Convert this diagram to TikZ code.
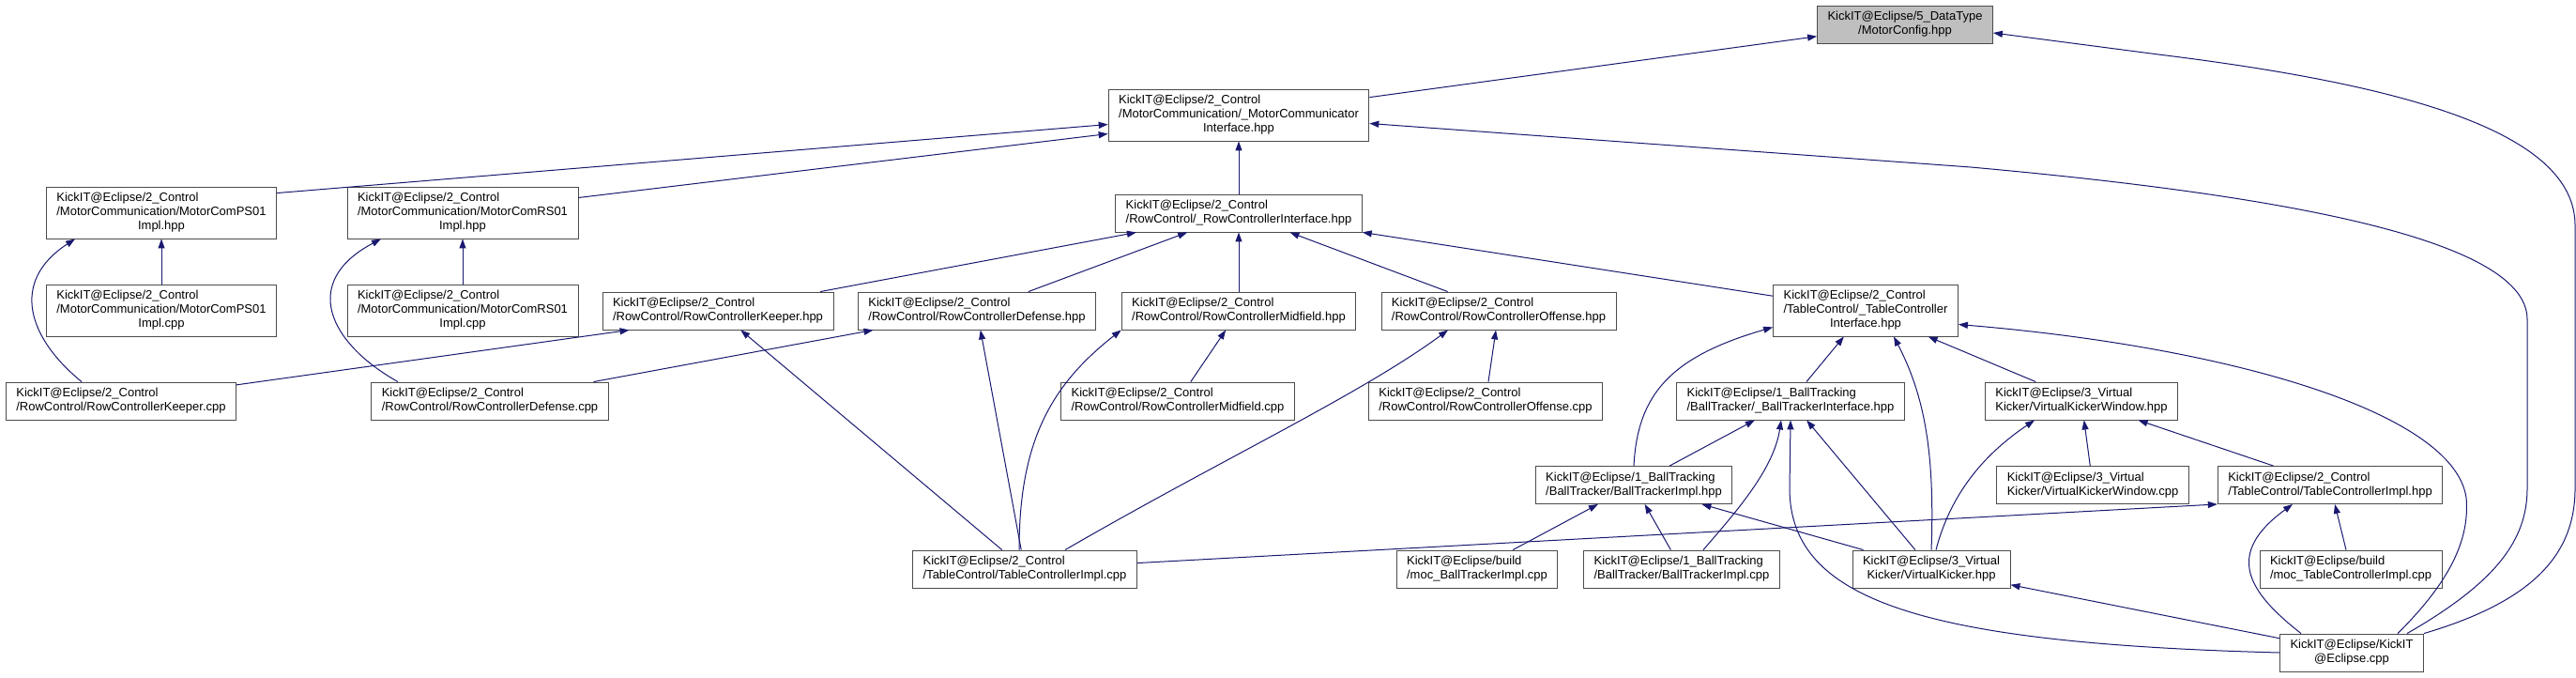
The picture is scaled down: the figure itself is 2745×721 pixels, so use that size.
\documentclass[tikz,border=0pt]{standalone}
\usepackage{fontspec}
\setmainfont{Liberation Sans}
\usepackage{xcolor}
\usetikzlibrary{arrows.meta,calc}
\definecolor{navyline}{HTML}{191970}
\definecolor{rootfill}{HTML}{BFBFBF}
\newcommand{\flabel}[2]{\begin{tabular}{@{}l@{}}#1\\\multicolumn{1}{@{}c@{}}{#2}\end{tabular}}
\tikzset{
  file/.style={draw=black!70,line width=0.9pt,fill=white,inner xsep=11pt,inner ysep=0pt,font=\fontsize{13}{15}\selectfont},
  two/.style={file,minimum height=40pt},
  three/.style={file,minimum height=55pt},
  root/.style={two,fill=rootfill},
  incl/.style={draw=navyline,line width=1pt,-{Triangle[length=10pt,width=7pt]}},
}
\begin{document}
\begin{tikzpicture}[x=1pt,y=-1pt]
  \fill[white] (0,0) rectangle (2745,721);
  \useasboundingbox (0,0) rectangle (2745,721);
  % header and motor communication
  \node[root] (cfg) at (2030,26) {\flabel{KickIT@Eclipse/5\_DataType}{/MotorConfig.hpp}};
  \node[three] (mci) at (1320,122.5) {\flabel{KickIT@Eclipse/2\_Control\\/MotorCommunication/\_MotorCommunicator}{Interface.hpp}};
  \node[three] (ps1h) at (172,226.5) {\flabel{KickIT@Eclipse/2\_Control\\/MotorCommunication/MotorComPS01}{Impl.hpp}};
  \node[three] (ps1c) at (172,330.5) {\flabel{KickIT@Eclipse/2\_Control\\/MotorCommunication/MotorComPS01}{Impl.cpp}};
  \node[three] (rs1h) at (493,226.5) {\flabel{KickIT@Eclipse/2\_Control\\/MotorCommunication/MotorComRS01}{Impl.hpp}};
  \node[three] (rs1c) at (493,330.5) {\flabel{KickIT@Eclipse/2\_Control\\/MotorCommunication/MotorComRS01}{Impl.cpp}};
  % row control
  \node[two] (rci) at (1320,227) {\flabel{KickIT@Eclipse/2\_Control}{/RowControl/\_RowControllerInterface.hpp}};
  \node[two] (kph) at (765,331) {\flabel{KickIT@Eclipse/2\_Control}{/RowControl/RowControllerKeeper.hpp}};
  \node[two] (dfh) at (1041,331) {\flabel{KickIT@Eclipse/2\_Control}{/RowControl/RowControllerDefense.hpp}};
  \node[two] (mfh) at (1320,331) {\flabel{KickIT@Eclipse/2\_Control}{/RowControl/RowControllerMidfield.hpp}};
  \node[two] (ofh) at (1597,331) {\flabel{KickIT@Eclipse/2\_Control}{/RowControl/RowControllerOffense.hpp}};
  \node[two] (kpc) at (129,427) {\flabel{KickIT@Eclipse/2\_Control}{/RowControl/RowControllerKeeper.cpp}};
  \node[two] (dfc) at (522,427) {\flabel{KickIT@Eclipse/2\_Control}{/RowControl/RowControllerDefense.cpp}};
  \node[two] (mfc) at (1255,427) {\flabel{KickIT@Eclipse/2\_Control}{/RowControl/RowControllerMidfield.cpp}};
  \node[two] (ofc) at (1583,427) {\flabel{KickIT@Eclipse/2\_Control}{/RowControl/RowControllerOffense.cpp}};
  % table control, ball tracking, virtual kicker
  \node[three] (tci) at (1988,330.5) {\flabel{KickIT@Eclipse/2\_Control\\/TableControl/\_TableController}{Interface.hpp}};
  \node[two] (bti) at (1908,427) {\flabel{KickIT@Eclipse/1\_BallTracking}{/BallTracker/\_BallTrackerInterface.hpp}};
  \node[two] (vkwh) at (2218,427) {\flabel{KickIT@Eclipse/3\_Virtual}{Kicker/VirtualKickerWindow.hpp}};
  \node[two] (bth) at (1741,516.5) {\flabel{KickIT@Eclipse/1\_BallTracking}{/BallTracker/BallTrackerImpl.hpp}};
  \node[two] (vkwc) at (2230,516.5) {\flabel{KickIT@Eclipse/3\_Virtual}{Kicker/VirtualKickerWindow.cpp}};
  \node[two] (tch) at (2483,516.5) {\flabel{KickIT@Eclipse/2\_Control}{/TableControl/TableControllerImpl.hpp}};
  \node[two] (tcc) at (1092,606) {\flabel{KickIT@Eclipse/2\_Control}{/TableControl/TableControllerImpl.cpp}};
  \node[two] (mbt) at (1574,606) {\flabel{KickIT@Eclipse/build}{/moc\_BallTrackerImpl.cpp}};
  \node[two] (btc) at (1792,606) {\flabel{KickIT@Eclipse/1\_BallTracking}{/BallTracker/BallTrackerImpl.cpp}};
  \node[two] (vkh) at (2058,606) {\flabel{KickIT@Eclipse/3\_Virtual}{Kicker/VirtualKicker.hpp}};
  \node[two] (mtc) at (2505,606) {\flabel{KickIT@Eclipse/build}{/moc\_TableControllerImpl.cpp}};
  \node[two] (kit) at (2506,695) {\flabel{KickIT@Eclipse/KickIT}{@Eclipse.cpp}};

  % motor communication edges
  \draw[incl] (mci) -- (cfg);
  \draw[incl] ($(ps1h.north east)+(0,7)$) -- ($(mci.west)+(0,10)$);
  \draw[incl] ($(rs1h.east)+(0,-16)$) -- ($(mci.west)+(0,20)$);
  \draw[incl] (rci) -- (mci);
  \draw[incl] (ps1c) -- (ps1h);
  \draw[incl] (rs1c) -- (rs1h);
  \draw[incl] ($(kpc.north)+(-42,0)$) .. controls (30,360) and (10,300) .. ($(ps1h.south)+(-92,0)$);
  \draw[incl] ($(dfc.north)+(-98,0)$) .. controls (350,365) and (320,300) .. ($(rs1h.south)+(-87,0)$);

  % row controller edges
  \draw[incl] (kph) -- (rci);
  \draw[incl] (dfh) -- (rci);
  \draw[incl] (mfh) -- (rci);
  \draw[incl] (ofh) -- (rci);
  \draw[incl] (tci) -- (rci);
  \draw[incl] (kpc) -- ($(kph.south west)+(29,0)$);
  \draw[incl] (dfc) -- (dfh);
  \draw[incl] (mfc) -- (mfh);
  \draw[incl] (ofc) -- (ofh);
  \draw[incl] (tcc) -- (kph);
  \draw[incl] (tcc) -- (dfh);
  \draw[incl] ($(tcc.north)+(-6,0)$) .. controls (1086,470) and (1120,410) .. (mfh.south west);
  \draw[incl] ($(tcc.north)+(43,0)$) .. controls (1300,490) and (1450,420) .. ($(ofh.south)+(-54,0)$);
  \draw[incl] (tcc) -- (tch.south west);

  % table control edges
  \draw[incl] (bth.north) .. controls (1745,420) and (1780,380) .. ($(tci.south west)+(0,-10)$);
  \draw[incl] (bti) -- (tci);
  \draw[incl] (vkh.north) .. controls (2062,480) and (2050,420) .. ($(tci.south)+(30,0)$);
  \draw[incl] (vkwh) -- (tci);
  \draw[incl] ($(kit.north)+(49,0)$) .. controls (2610,620) and (2632,575) .. (2628,530) .. controls (2615,440) and (2380,370) .. ($(tci.east)+(0,15)$);

  % ball tracker edges
  \draw[incl] (bth) -- (bti);
  \draw[incl] ($(btc.north)+(23,0)$) .. controls (1850,545) and (1890,500) .. ($(bti.south)+(-10,0)$);
  \draw[incl] (vkh) -- (bti);
  \draw[incl] (kit.west) .. controls (2050,685) and (1907,640) .. (1907,520) -- (bti.south);
  \draw[incl] (mbt) -- (bth);
  \draw[incl] (btc) -- (bth);
  \draw[incl] (vkh) -- (bth);

  % virtual kicker edges
  \draw[incl] ($(vkh.north)+(5,0)$) .. controls (2080,520) and (2120,480) .. ($(vkwh.south)+(-50,0)$);
  \draw[incl] (vkwc) -- (vkwh);
  \draw[incl] (tch) -- (vkwh);
  \draw[incl] (kit) -- (vkh);
  \draw[incl] (mtc) -- (tch);
  \draw[incl] ($(kit.north)+(-54,0)$) .. controls (2395,630) and (2370,590) .. ($(tch.south)+(-40,0)$);

  % long edges on the right
  \draw[incl] ($(kit.north)+(59,0)$) .. controls (2660,620) and (2693,575) .. (2693,520) -- (2693,340) .. controls (2693,250) and (2400,205) .. (2100,178) -- ($(mci.east)+(0,9)$);
  \draw[incl] (kit.north east) .. controls (2700,640) and (2744,590) .. (2744,520) -- (2744,240) .. controls (2744,140) and (2560,90) .. (2300,58) -- ($(cfg.east)+(0,9)$);
\end{tikzpicture}
\end{document}
